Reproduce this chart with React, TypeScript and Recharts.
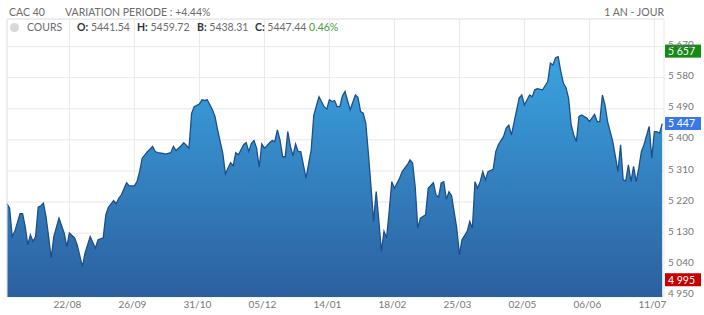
import React from 'react'
import {
    AreaChart,
    Area,
    XAxis,
    YAxis,
    CartesianGrid,
    ReferenceLine,
} from 'recharts'

// trading-day index (0 = first session shown) and closing level
const days = [
    0, 1, 2, 3, 5, 6, 7, 8, 9, 10, 11, 12, 13, 14, 15, 16, 17, 18, 20, 22,
    23, 24, 26, 27, 29, 30, 32, 34, 35, 37, 38, 39, 41, 42, 43, 44, 46, 47, 49, 50,
    51, 52, 54, 55, 56, 57, 58, 60, 61, 63, 64, 65, 67, 68, 70, 71, 72, 74, 75, 76,
    77, 79, 80, 81, 83, 84, 86, 87, 88, 89, 91, 92, 93, 94, 95, 96, 97, 98, 99, 100,
    101, 102, 103, 104, 105, 106, 107, 108, 109, 110, 111, 112, 113, 115, 117, 118, 120, 122, 123, 124,
    125, 126, 127, 128, 129, 130, 132, 134, 135, 136, 137, 138, 139, 140, 141, 142, 143, 144, 145, 146,
    147, 148, 149, 151, 152, 154, 155, 156, 157, 158, 159, 161, 162, 164, 165, 166, 167, 168, 169, 170,
    171, 173, 174, 175, 177, 178, 179, 180, 181, 182, 183, 184, 185, 187, 188, 189, 191, 192, 193, 194,
    195, 197, 198, 199, 201, 202, 203, 204, 206, 208, 209, 210, 211, 212, 213, 214, 215, 216, 217, 218,
    219, 220, 221, 223, 224, 226, 227, 228, 229, 230, 231, 233, 234, 235, 236, 237, 238, 239, 240, 241,
    242, 243, 244, 245, 247, 248, 249, 250, 251, 252,
]

const closes = [
    5215, 5202, 5120, 5135, 5186, 5186, 5149, 5096, 5125, 5106, 5120, 5205, 5209, 5217, 5178, 5120, 5058, 5120, 5173, 5130,
    5091, 5130, 5116, 5096, 5033, 5072, 5120, 5086, 5111, 5116, 5183, 5205, 5224, 5215, 5231, 5241, 5276, 5267, 5267, 5279,
    5308, 5347, 5366, 5373, 5381, 5366, 5363, 5361, 5359, 5363, 5381, 5369, 5383, 5392, 5376, 5477, 5496, 5504, 5516, 5514,
    5516, 5487, 5468, 5429, 5361, 5302, 5334, 5325, 5363, 5357, 5386, 5392, 5366, 5390, 5398, 5376, 5321, 5388, 5376, 5383,
    5392, 5398, 5395, 5429, 5400, 5352, 5350, 5424, 5381, 5354, 5388, 5366, 5366, 5289, 5371, 5472, 5525, 5496, 5489, 5516,
    5511, 5514, 5496, 5496, 5527, 5540, 5487, 5530, 5523, 5482, 5477, 5448, 5361, 5265, 5164, 5250, 5168, 5077, 5135, 5116,
    5193, 5279, 5260, 5289, 5308, 5328, 5342, 5333, 5265, 5144, 5173, 5183, 5260, 5276, 5241, 5234, 5275, 5279, 5228, 5250,
    5238, 5144, 5067, 5111, 5135, 5164, 5144, 5279, 5260, 5279, 5308, 5284, 5308, 5315, 5366, 5386, 5410, 5434, 5443, 5414,
    5450, 5521, 5530, 5501, 5530, 5525, 5545, 5548, 5545, 5569, 5622, 5617, 5638, 5641, 5598, 5564, 5551, 5521, 5443, 5414,
    5395, 5468, 5472, 5463, 5453, 5474, 5453, 5453, 5530, 5501, 5453, 5395, 5352, 5308, 5386, 5284, 5281, 5328, 5279, 5323,
    5279, 5318, 5366, 5386, 5439, 5347, 5424, 5424, 5419, 5447,
]

const tickDays = [24, 49, 74, 99, 124, 149, 174, 199, 224, 249]
const tickLabels = ['22/08', '26/09', '31/10', '05/12', '14/01', '18/02', '25/03', '02/05', '06/06', '11/07']
const priceTicks = [4950, 5040, 5130, 5220, 5310, 5400, 5490, 5580, 5670]

const periodHigh = 5657
const periodLow = 4995
const lastClose = 5447.44

const data = days.map((d, i) => ({ day: d, close: closes[i] }))

const fmtPrice = (v: number) => {
    const s = Math.round(v).toString()
    return s.slice(0, s.length - 3) + ' ' + s.slice(-3)
}

const PriceTag = (props: any) => {
    const { viewBox, color, value } = props
    if (!viewBox) return null
    const x = viewBox.x + viewBox.width + 1
    const y = viewBox.y
    return (
        <g>
            <rect x={x} y={y - 6.5} width={36} height={13} fill={color} />
            <text x={x + 3} y={y + 4} fill="#fff" fontSize={10.5} fontFamily="Lato, sans-serif">
                {fmtPrice(value)}
            </text>
        </g>
    )
}

const grey = '#6b6b6b'

export default function App() {
    return (
        <div style={{ position: 'absolute', left: 0, top: 0, width: 704, height: 315, background: '#fff', fontFamily: 'Lato, sans-serif' }}>
            <AreaChart width={704} height={315} data={data} margin={{ top: 19, right: 0, left: 7, bottom: 0 }}>
                <defs>
                    <linearGradient id="cacFill" x1="0" y1="0" x2="0" y2="1">
                        <stop offset="0%" stopColor="#3ba3e0" />
                        <stop offset="100%" stopColor="#2c5f9f" />
                    </linearGradient>
                </defs>
                <CartesianGrid stroke="#e8e8e8" />
                <XAxis
                    dataKey="day"
                    type="number"
                    domain={[0, 252.7]}
                    ticks={tickDays}
                    tickFormatter={(v) => tickLabels[tickDays.indexOf(v)] ?? ''}
                    axisLine={false}
                    tickLine={false}
                    height={18}
                    tickSize={2}
                    tick={{ fill: '#777', fontSize: 10, dx: -2 }}
                />
                <YAxis
                    orientation="right"
                    type="number"
                    domain={[4945, 5750]}
                    ticks={priceTicks}
                    tickFormatter={fmtPrice}
                    axisLine={false}
                    tickLine={false}
                    width={40}
                    tickSize={4}
                    tickMargin={0}
                    textAnchor="start"
                    tick={{ fill: '#777', fontSize: 10, dy: -2 }}
                />
                <ReferenceLine x={0} stroke="#e8e8e8" />
                <ReferenceLine y={5750} stroke="#e8e8e8" />
                <Area
                    type="linear"
                    dataKey="close"
                    stroke="#1d4f8a"
                    strokeWidth={1.3}
                    fill="url(#cacFill)"
                    fillOpacity={1}
                    isAnimationActive={false}
                />
                <ReferenceLine y={periodHigh} stroke="none" label={<PriceTag color="#158a15" value={periodHigh} />} />
                <ReferenceLine y={lastClose} stroke="none" label={<PriceTag color="#3b78e7" value={lastClose} />} />
                <ReferenceLine y={periodLow} stroke="none" label={<PriceTag color="#c80000" value={periodLow} />} />
            </AreaChart>

            <div style={{ position: 'absolute', left: 9, top: 6, fontSize: 10.5, color: grey }}>CAC 40</div>
            <div style={{ position: 'absolute', left: 65, top: 6, fontSize: 10.5, color: grey }}>VARIATION PERIODE : +4.44%</div>
            <div style={{ position: 'absolute', right: 40, top: 6, fontSize: 10.5, color: grey }}>1 AN - JOUR</div>

            <div style={{ position: 'absolute', left: 10, top: 23, width: 9, height: 9, borderRadius: 5, background: '#d8d8d8' }} />
            <div style={{ position: 'absolute', left: 27, top: 21, fontSize: 10.5, color: grey }}>COURS</div>
            <div style={{ position: 'absolute', left: 77, top: 21, fontSize: 10.5, color: grey }}><b style={{ color: '#333' }}>O:</b> 5441.54</div>
            <div style={{ position: 'absolute', left: 137, top: 21, fontSize: 10.5, color: grey }}><b style={{ color: '#333' }}>H:</b> 5459.72</div>
            <div style={{ position: 'absolute', left: 197, top: 21, fontSize: 10.5, color: grey }}><b style={{ color: '#333' }}>B:</b> 5438.31</div>
            <div style={{ position: 'absolute', left: 255, top: 21, fontSize: 10.5, color: grey }}>
                <b style={{ color: '#333' }}>C:</b> 5447.44 <span style={{ color: '#4a9a3a' }}>0.46%</span>
            </div>
        </div>
    )
}
